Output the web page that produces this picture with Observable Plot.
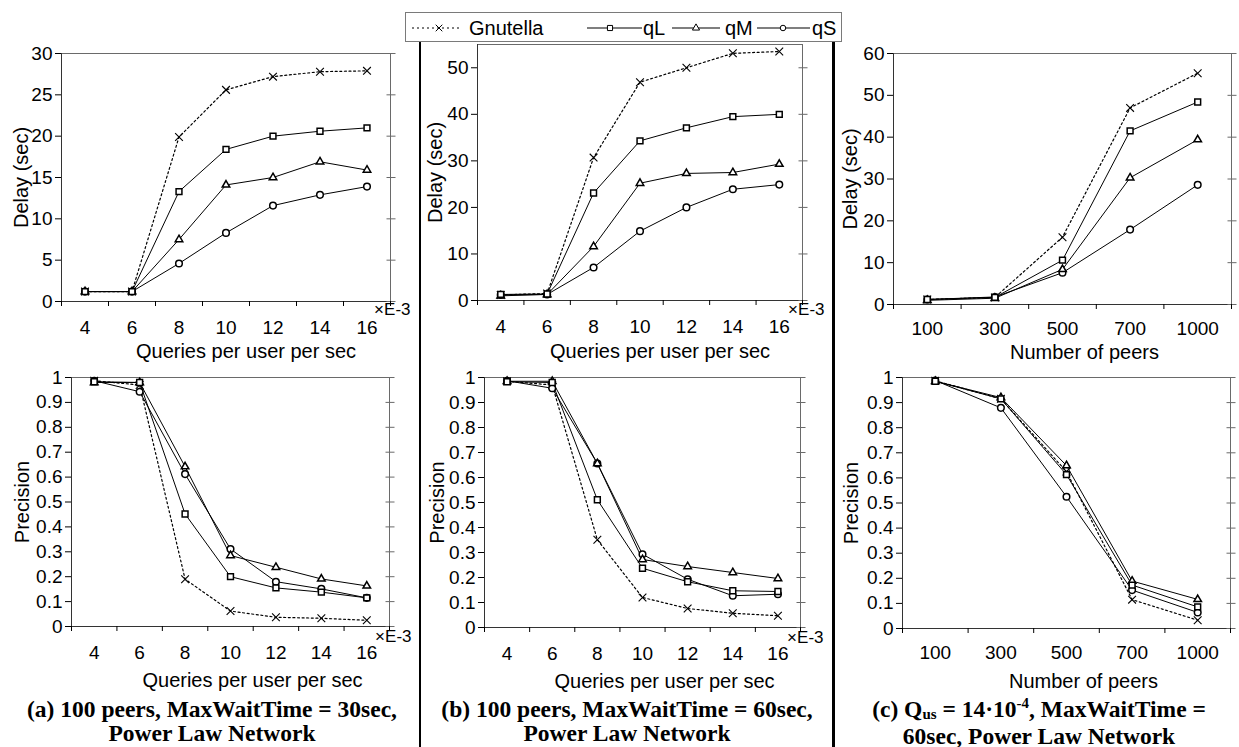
<!DOCTYPE html>
<html>
<head>
<meta charset="utf-8">
<script src="https://cdn.jsdelivr.net/npm/d3@7"></script>
<script src="https://cdn.jsdelivr.net/npm/@observablehq/plot@0.6"></script>
<style>
  html, body { margin: 0; padding: 0; background: #fff; }
  body { width: 1239px; height: 747px; position: relative; overflow: hidden; font-family: "Liberation Sans", Arial, sans-serif; }
  .panel { position: absolute; }
  .panel svg { overflow: visible; }
  .sep { position: absolute; background: #000; width: 2.5px; top: 42px; height: 705px; }
  .cap { position: absolute; width: 520px; font-family: "Liberation Serif", "Times New Roman", serif; font-weight: bold; font-size: 23.5px; line-height: 24px; text-align: center; white-space: nowrap; color: #000; }
  .cap .sub { font-size: 15px; position: relative; top: 2px; }
  .cap .sup { font-size: 15px; position: relative; top: -9px; }
  #legend { position: absolute; left: 405px; top: 12px; width: 437px; height: 30px; border: 1px solid #7a7a7a; box-sizing: border-box; background: #fff; }
</style>
</head>
<body>
<div id="legend"></div>
<div class="sep" style="left:418.5px"></div>
<div class="sep" style="left:832px"></div>
<div id="a-top" class="panel"></div>
<div id="b-top" class="panel"></div>
<div id="c-top" class="panel"></div>
<div id="a-bot" class="panel"></div>
<div id="b-bot" class="panel"></div>
<div id="c-bot" class="panel"></div>
<div class="cap" style="left:-48px; top:697px">(a) 100 peers, MaxWaitTime = 30sec,<br>Power Law Network</div>
<div class="cap" style="left:367px; top:697px">(b) 100 peers, MaxWaitTime = 60sec,<br>Power Law Network</div>
<div class="cap" style="left:779px; top:697px">(c) Q<span class="sub">us</span> = 14·10<span class="sup">-4</span>, MaxWaitTime =<br>60sec, Power Law Network</div>
<script>
// ---------- categories / tick labels ----------
const qpsCats = ["4", "6", "8", "10", "12", "14", "16"];
const peerCats = ["100", "300", "500", "700", "1000"];
const seriesNames = ["Gnutella", "qL", "qM", "qS"];
const delayTicksA = [0, 5, 10, 15, 20, 25, 30];
const delayTicksB = [0, 10, 20, 30, 40, 50];
const delayTicksC = [0, 10, 20, 30, 40, 50, 60];
const precisionTicks = [0, 0.1, 0.2, 0.3, 0.4, 0.5, 0.6, 0.7, 0.8, 0.9, 1];

// ---------- (a) delay, MaxWaitTime = 30 sec ----------
const delayA_Gnutella = [1.2, 1.2, 19.9, 25.6, 27.2, 27.8, 27.9];
const delayA_qL       = [1.2, 1.2, 13.3, 18.4, 20.0, 20.6, 21.0];
const delayA_qM       = [1.2, 1.2, 7.5, 14.1, 15.0, 16.9, 15.9];
const delayA_qS       = [1.2, 1.2, 4.6, 8.3, 11.6, 12.9, 13.9];
// ---------- (a) precision ----------
const precA_Gnutella = [0.987, 0.97, 0.19, 0.062, 0.037, 0.033, 0.025];
const precA_qL       = [0.983, 0.98, 0.452, 0.20, 0.155, 0.138, 0.115];
const precA_qM       = [0.98, 0.98, 0.642, 0.285, 0.238, 0.191, 0.163];
const precA_qS       = [0.987, 0.943, 0.612, 0.311, 0.18, 0.151, 0.115];

// ---------- (b) delay, MaxWaitTime = 60 sec ----------
const delayB_Gnutella = [1.2, 1.5, 30.7, 46.9, 50.0, 53.1, 53.5];
const delayB_qL       = [1.3, 1.4, 23.1, 34.3, 37.1, 39.5, 40.0];
const delayB_qM       = [1.0, 1.3, 11.6, 25.2, 27.3, 27.5, 29.3];
const delayB_qS       = [1.2, 1.3, 7.1, 14.9, 20.0, 23.9, 24.9];
// ---------- (b) precision ----------
const precB_Gnutella = [0.985, 0.97, 0.351, 0.12, 0.076, 0.057, 0.047];
const precB_qL       = [0.983, 0.98, 0.511, 0.237, 0.183, 0.147, 0.144];
const precB_qM       = [0.985, 0.985, 0.656, 0.272, 0.244, 0.22, 0.196];
const precB_qS       = [0.987, 0.957, 0.656, 0.293, 0.193, 0.127, 0.133];

// ---------- (c) delay vs number of peers ----------
const delayC_Gnutella = [1.2, 1.7, 16.1, 47.0, 55.3];
const delayC_qL       = [1.2, 1.7, 10.6, 41.5, 48.4];
const delayC_qM       = [1.0, 1.5, 8.4, 30.3, 39.4];
const delayC_qS       = [1.2, 1.8, 7.6, 17.9, 28.6];
// ---------- (c) precision ----------
const precC_Gnutella = [0.987, 0.915, 0.625, 0.115, 0.033];
const precC_qL       = [0.985, 0.915, 0.613, 0.173, 0.086];
const precC_qM       = [0.985, 0.92, 0.649, 0.189, 0.116];
const precC_qS       = [0.988, 0.879, 0.525, 0.153, 0.064];

// ---------- helpers ----------
function makeRows(cats, seriesArrays) {
  const rows = [];
  seriesArrays.forEach((vals, s) => {
    vals.forEach((v, i) => rows.push({series: seriesNames[s], cat: cats[i], x: i + 0.5, y: v}));
  });
  return rows;
}
const fmtPrec = d => String(+d.toFixed(1));
const fmtInt = d => String(d);

const FONT = "Liberation Sans, Arial, sans-serif";

function drawPanel(cfg) {
  const n = cfg.cats.length;
  const rows = makeRows(cfg.cats, cfg.series);
  const by = name => rows.filter(r => r.series === name);
  const gnu = by("Gnutella");
  const others = rows.filter(r => r.series !== "Gnutella");
  const marks = [
    Plot.frame({stroke: "#6a6a6a"}),
    Plot.ruleX([0], {stroke: "#333"}),
    Plot.ruleY([cfg.yDomain[0]], {stroke: "#333"}),
    Plot.axisY({anchor: "right", ticks: cfg.yTicks, tickSize: 9, dx: -4.5, tickFormat: () => "", stroke: "#6a6a6a", label: null}),
    Plot.axisY({anchor: "left", ticks: cfg.yTicks, tickSize: 6, tickPadding: 3, tickFormat: cfg.fmt, label: null, fontSize: 19}),
    Plot.axisX({ticks: d3.range(n + 1), tickSize: 5, tickFormat: () => "", label: null}),
    Plot.axisX({ticks: d3.range(n).map(i => i + 0.5), tickSize: 0, tickPadding: cfg.tickPad, tickFormat: d => cfg.cats[Math.floor(d)], label: null, fontSize: 19}),
    Plot.line(gnu, {x: "x", y: "y", stroke: "black", strokeWidth: 1.2, strokeDasharray: "2,2.6"}),
    Plot.line(others, {x: "x", y: "y", z: "series", stroke: "black", strokeWidth: 1}),
    Plot.dot(gnu, {x: "x", y: "y", symbol: "times", r: 3.6, stroke: "black", strokeWidth: 1.1}),
    Plot.dot(by("qS"), {x: "x", y: "y", symbol: "circle", r: 3.3, fill: "white", stroke: "black"}),
    Plot.dot(by("qM"), {x: "x", y: "y", symbol: "triangle", r: 2.8, fill: "white", stroke: "black"}),
    Plot.dot(by("qL"), {x: "x", y: "y", symbol: "square", r: 3.3, fill: "white", stroke: "black"}),
    Plot.text([cfg.yLabel], {text: d => d, frameAnchor: "left", rotate: -90, lineAnchor: "top", textAnchor: "middle", dx: -cfg.yOff, fontSize: 20}),
    Plot.text([cfg.xLabel], {text: d => d, frameAnchor: "bottom", lineAnchor: "top", textAnchor: "middle", dx: cfg.xDx, dy: cfg.xDy, fontSize: 20})
  ];
  if (cfg.exp) {
    marks.push(Plot.text([cfg.exp], {text: d => d, frameAnchor: "bottom-right", lineAnchor: "top", textAnchor: "end", dx: cfg.expDx, dy: cfg.expDy, fontSize: 17}));
  }
  const chart = Plot.plot({
    width: cfg.width, height: cfg.height,
    marginTop: cfg.m[0], marginRight: cfg.m[1], marginBottom: cfg.m[2], marginLeft: cfg.m[3],
    x: {domain: [0, n]},
    y: {domain: cfg.yDomain},
    style: {fontFamily: FONT, fontSize: "19px", color: "black", background: "transparent", overflow: "visible"},
    marks
  });
  const el = document.getElementById(cfg.id);
  el.style.left = cfg.left + "px";
  el.style.top = cfg.top + "px";
  el.style.width = cfg.width + "px";
  el.style.height = cfg.height + "px";
  el.appendChild(chart);
}

const panels = [
  {id: "a-top", left: 0, top: 0, width: 420, height: 360, m: [53, 30, 59, 61], cats: qpsCats,
   series: [delayA_Gnutella, delayA_qL, delayA_qM, delayA_qS], yDomain: [0, 30], yTicks: delayTicksA, fmt: fmtInt,
   yLabel: "Delay (sec)", xLabel: "Queries per user per sec", yOff: 48, xDx: 20, xDy: 42, tickPad: 19, exp: "×E-3", expDx: 20, expDy: 1},
  {id: "b-top", left: 420, top: 0, width: 414, height: 360, m: [44, 32, 60, 57], cats: qpsCats,
   series: [delayB_Gnutella, delayB_qL, delayB_qM, delayB_qS], yDomain: [0, 55], yTicks: delayTicksB, fmt: fmtInt,
   yLabel: "Delay (sec)", xLabel: "Queries per user per sec", yOff: 50, xDx: 20, xDy: 43, tickPad: 19, exp: "×E-3", expDx: 22, expDy: 2},
  {id: "c-top", left: 834, top: 0, width: 405, height: 360, m: [53, 8, 56, 59], cats: peerCats,
   series: [delayC_Gnutella, delayC_qL, delayC_qM, delayC_qS], yDomain: [0, 60], yTicks: delayTicksC, fmt: fmtInt,
   yLabel: "Delay (sec)", xLabel: "Number of peers", yOff: 51, xDx: 22, xDy: 40, tickPad: 17, exp: null},
  {id: "a-bot", left: 0, top: 360, width: 420, height: 330, m: [17, 31, 64, 71], cats: qpsCats,
   series: [precA_Gnutella, precA_qL, precA_qM, precA_qS], yDomain: [0, 1], yTicks: precisionTicks, fmt: fmtPrec,
   yLabel: "Precision", xLabel: "Queries per user per sec", yOff: 57, xDx: 22, xDy: 46, tickPad: 19, exp: "×E-3", expDx: 22, expDy: 3},
  {id: "b-bot", left: 420, top: 360, width: 414, height: 330, m: [17, 34, 63, 64], cats: qpsCats,
   series: [precB_Gnutella, precB_qL, precB_qM, precB_qS], yDomain: [0, 1], yTicks: precisionTicks, fmt: fmtPrec,
   yLabel: "Precision", xLabel: "Queries per user per sec", yOff: 55, xDx: 22, xDy: 46, tickPad: 19, exp: "×E-3", expDx: 23, expDy: 3},
  {id: "c-bot", left: 834, top: 360, width: 405, height: 330, m: [17, 9, 62, 68], cats: peerCats,
   series: [precC_Gnutella, precC_qL, precC_qM, precC_qS], yDomain: [0, 1], yTicks: precisionTicks, fmt: fmtPrec,
   yLabel: "Precision", xLabel: "Number of peers", yOff: 59, xDx: 17, xDy: 45, tickPad: 17, exp: null}
];
panels.forEach(drawPanel);

// ---------- legend ----------
const lg = d3.select("#legend").append("svg").attr("width", 435).attr("height", 28)
  .style("display", "block").style("font-family", FONT);
const legendItems = [
  {sym: d3.symbolTimes, size: 30, x0: 6, x1: 56, mx: 33, tx: 63, dash: "2,3", fill: "none"},
  {sym: d3.symbolSquare, size: 26, x0: 181, x1: 236, mx: 204, tx: 237, dash: null, fill: "white"},
  {sym: d3.symbolTriangle, size: 22, x0: 266, x1: 314, mx: 290, tx: 319, dash: null, fill: "white"},
  {sym: d3.symbolCircle, size: 24, x0: 351, x1: 404, mx: 377, tx: 406, dash: null, fill: "white"}
];
legendItems.forEach((it, k) => {
  const ln = lg.append("line").attr("x1", it.x0).attr("x2", it.x1).attr("y1", 15).attr("y2", 15)
    .attr("stroke", "black").attr("stroke-width", 1.2);
  if (it.dash) ln.attr("stroke-dasharray", it.dash);
  lg.append("path").attr("d", d3.symbol(it.sym, it.size)()).attr("transform", `translate(${it.mx},15)`)
    .attr("fill", it.fill).attr("stroke", "black").attr("stroke-width", 1);
  lg.append("text").attr("x", it.tx).attr("y", 22).attr("font-size", 20).attr("fill", "black").text(seriesNames[k]);
});
</script>
</body>
</html>
